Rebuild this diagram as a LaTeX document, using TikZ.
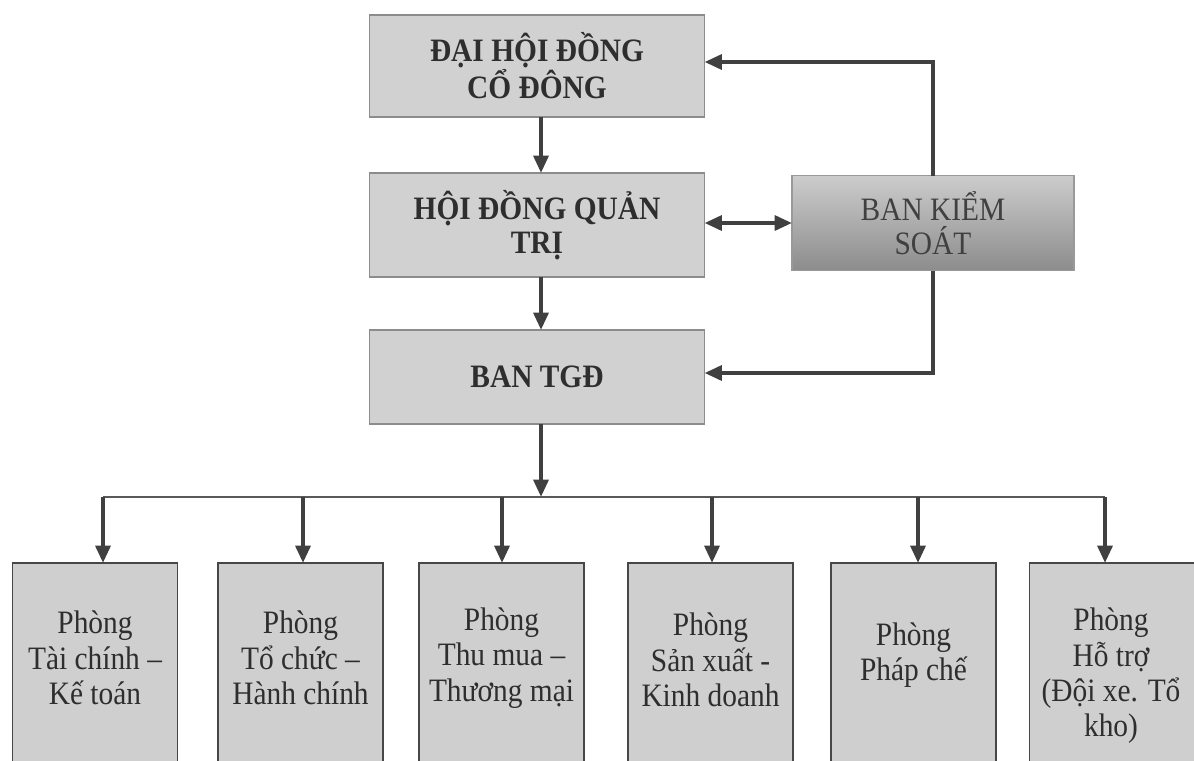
\documentclass[tikz,border=0pt]{standalone}
\usepackage{fontspec}
\setmainfont{Liberation Serif}
\newfontfamily\tallserif[FakeStretch=0.9]{Liberation Serif}
\usetikzlibrary{arrows.meta,calc}
\begin{document}
\begin{tikzpicture}[x=0.75pt,y=-0.75pt,
  topbox/.style={draw=black!45,line width=1pt,fill=black!18,inner sep=0pt,outer sep=0pt,
    minimum width=251.25pt,font=\tallserif\fontsize{24.5}{25.5}\selectfont\bfseries,text=black!82,align=center},
  ksbox/.style={draw=black!40,line width=1pt,top color=black!20,bottom color=black!45,
    inner sep=0pt,outer sep=0pt,minimum width=211.5pt,minimum height=71.25pt,
    font=\tallserif\fontsize{24.5}{26}\selectfont,text=black!75,align=center},
  dept/.style={draw=black!72,line width=1.3pt,fill=black!19,inner sep=0pt,outer sep=0pt,
    minimum width=123.75pt,minimum height=155.25pt},
  depttext/.style={font=\tallserif\fontsize{24.5}{26.5}\selectfont,text=black!82,align=center,inner sep=0pt},
  arr/.style={draw=black!75,line width=3pt,-{Triangle[length=13pt,width=11pt]}},
  darr/.style={draw=black!75,line width=3pt,{Triangle[length=13pt,width=11pt]}-{Triangle[length=13pt,width=11pt]}},
  busline/.style={draw=black!65,line width=1.5pt}]
\useasboundingbox (0,0) rectangle (1194,760);
\clip (0,0) rectangle (1194,760);
\fill[white] (0,0) rectangle (1194,760);

% top hierarchy
\node[topbox,minimum height=76.5pt] (dhd) at (537,66) {ĐẠI HỘI ĐỒNG\\CỔ ĐÔNG};
\node[topbox,minimum height=78pt] (hdqt) at (537,225) {HỘI ĐỒNG QUẢN\\TRỊ};
\node[topbox,minimum height=70.5pt] (tgd) at (537,377) {BAN TGĐ};
\node[ksbox] (bks) at (933,223) {BAN KIỂM\\SOÁT};

% departments
\node[dept] (p1) at (95,666.5) {};
\node[dept] (p2) at (300.5,666.5) {};
\node[dept] (p3) at (501.5,666.5) {};
\node[dept] (p4) at (710.5,666.5) {};
\node[dept] (p5) at (913.5,666.5) {};
\node[dept] (p6) at (1112,666.5) {};

\node[depttext] (t1) at (95,658) {Phòng\\Tài chính –\\Kế toán};
\node[depttext] (t2) at (300.5,658) {Phòng\\Tổ chức –\\Hành chính};
\node[depttext] (t3) at (501.5,658) {Phòng\\Thu mua –\\Thương mại};
\node[depttext] (t4) at (710.5,660) {Phòng\\Sản xuất -\\Kinh doanh};
\node[depttext] (t5) at (913.5,655) {Phòng\\Pháp chế};
\node[depttext] (t6) at (1111,676) {Phòng\\Hỗ trợ\\(Đội xe. Tổ\\kho)};

% connectors
\draw[arr] ([xshift=3pt]dhd.south) -- ([xshift=3pt]hdqt.north);
\draw[arr] ([xshift=3pt]hdqt.south) -- ([xshift=3pt]tgd.north);
\draw[darr] (hdqt.east |- bks.west) -- (bks.west);
\draw[arr] (bks.north) |- ([yshift=3pt]dhd.east);
\draw[arr] (bks.south) |- ([yshift=3pt]tgd.east);

\coordinate (bus) at (541,497);
\coordinate (bl) at (103,497);
\coordinate (br) at (1105,497);
\draw[busline] (bl) -- (br);
\draw[arr] ([xshift=3pt]tgd.south) -- (bus);
\foreach \i/\x in {1/103,2/303,3/502,4/712,5/918,6/1105}{
  \coordinate (d\i) at (\x,497);
  \draw[arr] (d\i) -- (d\i |- p\i.north);
}
\end{tikzpicture}
\end{document}
